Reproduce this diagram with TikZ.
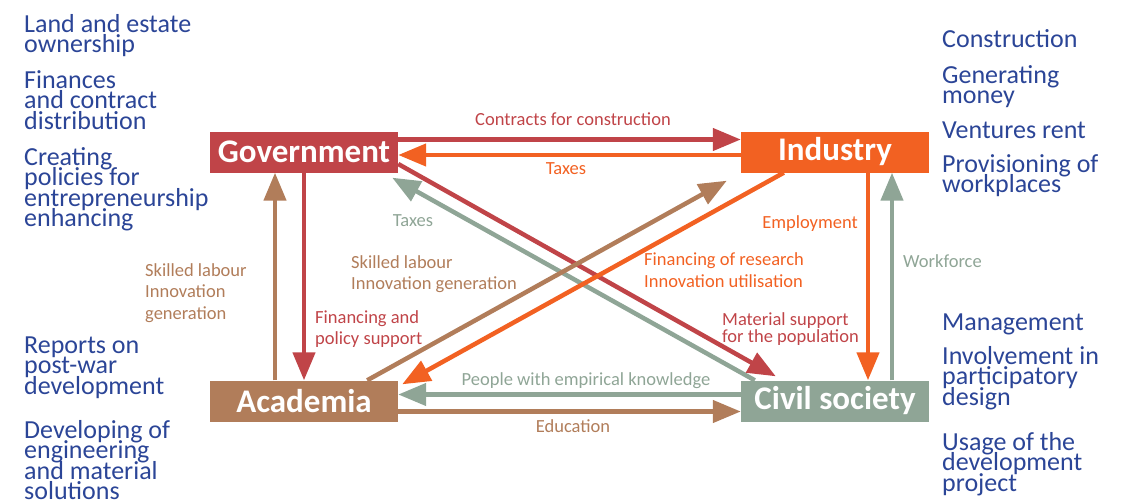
\documentclass[tikz,border=0pt]{standalone}
\usepackage{fontspec}
\setmainfont{Carlito}
\usepackage{xcolor}
\usetikzlibrary{positioning,arrows.meta}

\definecolor{govred}{HTML}{C04448}
\definecolor{indorange}{HTML}{F26122}
\definecolor{acabrown}{HTML}{B17D5A}
\definecolor{civgreen}{HTML}{8FA596}
\definecolor{roleblue}{HTML}{2B4597}

% lines in the text nodes are set closer than their ascenders and descenders
\lineskiplimit=-100pt

\begin{document}
\begin{tikzpicture}[
		x=1pt, y=-1pt,
		box/.style={minimum width=188pt, minimum height=41pt, inner sep=0pt,
			text=white, font=\bfseries\fontsize{33}{33}\selectfont},
		arr/.style={-{Triangle[length=28pt,width=22pt]}, line width=4.5pt},
		lbl/.style={font=\fontsize{18.5}{21.5}\selectfont, inner sep=0pt, align=left},
		role/.style={font=\fontsize{26}{20.5}\selectfont, text=roleblue,
			inner sep=0pt, align=left, anchor=base west}
		]
		\useasboundingbox (0,0) rectangle (1130,503);

		\node[box, fill=govred] (gov) at (304,152) {Government};
		\node[box, fill=indorange] (ind) at (835,152) {Industry};
		\node[box, fill=acabrown] (aca) at (304,401) {Academia};
		\node[box, fill=civgreen] (civ) at (835,401) {Civil society};

		% horizontal pairs
		\draw[arr, govred] ([yshift=12.5pt]gov.east) -- ([yshift=12.5pt]ind.west);
		\draw[arr, indorange] ([yshift=-3pt]ind.west) -- ([yshift=-3pt]gov.east);
		\draw[arr, civgreen] ([yshift=6.5pt]civ.west) -- ([yshift=6.5pt]aca.east);
		\draw[arr, acabrown] ([yshift=-10.5pt]aca.east) -- ([yshift=-10.5pt]civ.west);

		% vertical pairs
		\draw[arr, acabrown] ([xshift=-29pt]aca.north) -- ([xshift=-29pt]gov.south);
		\draw[arr, govred] (gov.south) -- (aca.north);
		\draw[arr, indorange] ([xshift=33pt]ind.south) -- ([xshift=33pt]civ.north);
		\draw[arr, civgreen] ([xshift=57pt]civ.north) -- ([xshift=57pt]ind.south);

		% diagonals
		\draw[arr, civgreen] ([xshift=14pt]civ.north west) -- ([xshift=-6pt,yshift=-5pt]gov.south east);
		\draw[arr, govred] ([yshift=-12pt]gov.east) -- ([xshift=35pt,yshift=4pt]civ.north west);
		\draw[arr, acabrown] ([xshift=-31pt]aca.north east) -- ([xshift=-14pt,yshift=-8pt]ind.south west);
		\draw[arr, indorange] ([xshift=43pt]ind.south west) -- ([xshift=4pt,yshift=-4pt]aca.north east);

		% flow labels
		\node[lbl, text=govred] (contracts) at (573,119) {Contracts for construction};
		\node[lbl, text=indorange] (taxind) at (566,169) {Taxes};
		\node[lbl, text=civgreen] (taxciv) at (413,221) {Taxes};
		\node[lbl, text=acabrown, anchor=west] (skillind) at (351,274) {Skilled labour\\Innovation generation};
		\node[lbl, text=indorange, anchor=west] (finres) at (644,270) {Financing of research\\Innovation utilisation};
		\node[lbl, text=indorange, anchor=east] (employ) at (858,224) {Employment};
		\node[lbl, text=civgreen, anchor=west] (workforce) at (903,261) {Workforce};
		\node[lbl, text=acabrown, anchor=west] (skillgov) at (145,293) {Skilled labour\\Innovation\\generation};
		\node[lbl, text=govred, anchor=west] (finpol) at (315,329) {Financing and\\policy support};
		\node[lbl, text=govred, anchor=west, font=\fontsize{18.5}{16.5}\selectfont] (matsup) at (722,329) {Material support\\for the population};
		\node[lbl, text=civgreen] (people) at (586,381) {People with empirical knowledge};
		\node[lbl, text=acabrown] (educ) at (573,426) {Education};

		% roles of each actor (placed by the baseline of their last line)
		\node[role] (govland) at (24,52.5) {Land and estate\\ownership};
		\node[role] (govfin) at (24,129) {Finances\\and contract\\distribution};
		\node[role] (govpol) at (24,226.5) {Creating\\policies for\\entrepreneurship\\enhancing};
		\node[role] (acarep) at (24,394) {Reports on\\post-war\\development};
		\node[role] (acadev) at (24,499.5) {Developing of\\engineering\\and material\\solutions};
		\node[role] (indcon) at (942,48) {Construction};
		\node[role] (indgen) at (942,103.5) {Generating\\money};
		\node[role] (indrent) at (942,138) {Ventures rent};
		\node[role] (indwork) at (942,192.5) {Provisioning of\\workplaces};
		\node[role] (civman) at (942,330) {Management};
		\node[role] (civinv) at (942,405) {Involvement in\\participatory\\design};
		\node[role] (civuse) at (942,491) {Usage of the\\development\\project};
	\end{tikzpicture}
\end{document}
